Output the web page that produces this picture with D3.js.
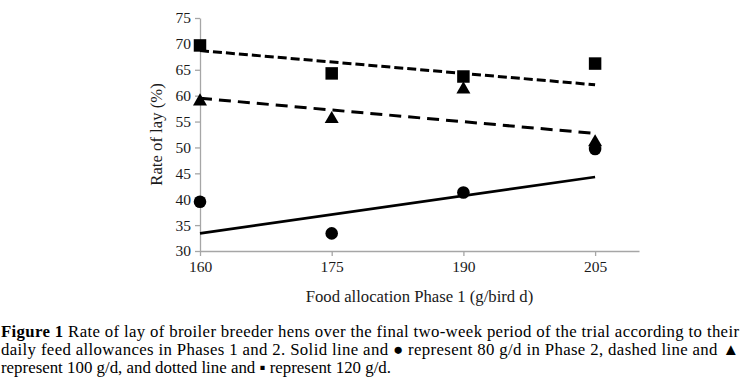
<!DOCTYPE html>
<html>
<head>
<meta charset="utf-8">
<script src="https://cdn.jsdelivr.net/npm/d3@7"></script>
<style>
  body { margin: 0; background: white; }
  svg { display: block; }
</style>
</head>
<body>
<div id="chart"></div>
<script>
// values
const feed = [160, 175, 190, 205];
const rate80 = [39.5, 33.4, 41.3, 49.7];
const rate100 = [58.9, 55.5, 61.2, 51.0];
const rate120 = [69.7, 64.3, 63.7, 66.2];

// fitted trend lines (end points)
const trendFeed = [160, 205];
const trend80 = [33.4, 44.3];
const trend100 = [59.5, 52.7];
const trend120 = [68.7, 62.1];

const yTicks = [30, 35, 40, 45, 50, 55, 60, 65, 70, 75];

const captionLines = [
    "Rate of lay of broiler breeder hens over the final two-week period of the trial according to their",
    "daily feed allowances in Phases 1 and 2. Solid line and \u25CF represent 80 g/d in Phase 2, dashed line and \u25B2",
    "represent 100 g/d, and dotted line and \u25AA represent 120 g/d."
];

const width = 741;
const height = 384;
const font = "'Liberation Serif', 'Times New Roman', serif";

const svg = d3.select("#chart")
    .append("svg")
    .attr("width", width)
    .attr("height", height);

const x = d3.scaleLinear()
    .domain([160, 210])
    .range([200, 639]);

const y = d3.scaleLinear()
    .domain([30, 75])
    .range([251, 18]);

// axes
const xAxis = svg.append("g")
    .attr("transform", `translate(0,${y(30)})`)
    .call(d3.axisBottom(x).tickValues(feed).tickSize(5).tickSizeOuter(0).tickPadding(5));

const yAxis = svg.append("g")
    .attr("transform", `translate(${x(160)},0)`)
    .call(d3.axisLeft(y).tickValues(yTicks).tickSize(5).tickSizeOuter(0).tickPadding(4));

[xAxis, yAxis].forEach(g => {
    g.select(".domain").attr("stroke", "#a6a6a6").attr("stroke-width", 1.3);
    g.selectAll(".tick line").attr("stroke", "#a6a6a6").attr("stroke-width", 1.3);
    g.selectAll(".tick text")
        .attr("font-family", font)
        .attr("font-size", 15.5)
        .attr("fill", "#1a1a1a");
});

svg.append("text")
    .attr("x", (x(160) + x(210)) / 2)
    .attr("y", 302)
    .attr("text-anchor", "middle")
    .attr("font-family", font)
    .attr("font-size", 16.7)
    .attr("fill", "#1a1a1a")
    .text("Food allocation Phase 1 (g/bird d)");

svg.append("text")
    .attr("transform", `translate(162,${(y(30) + y(75)) / 2}) rotate(-90)`)
    .attr("text-anchor", "middle")
    .attr("font-family", font)
    .attr("font-size", 16.7)
    .attr("fill", "#1a1a1a")
    .text("Rate of lay (%)");

// trend lines
const line = d3.line()
    .x(d => x(d[0]))
    .y(d => y(d[1]));

const trends = [
    { vals: trend80, dash: null, w: 2.6 },
    { vals: trend100, dash: "12,7", w: 3 },
    { vals: trend120, dash: "9,4", w: 3 }
];

trends.forEach(t => {
    svg.append("path")
        .datum(d3.zip(trendFeed, t.vals))
        .attr("d", line)
        .attr("fill", "none")
        .attr("stroke", "black")
        .attr("stroke-width", t.w)
        .attr("stroke-dasharray", t.dash);
});

// markers
svg.selectAll(".dot80")
    .data(d3.zip(feed, rate80))
    .enter()
    .append("circle")
    .attr("cx", d => x(d[0]))
    .attr("cy", d => y(d[1]))
    .attr("r", 6.3)
    .attr("fill", "black");

const tri = d3.symbol().type(d3.symbolTriangle).size(85);
svg.selectAll(".tri100")
    .data(d3.zip(feed, rate100))
    .enter()
    .append("path")
    .attr("d", tri)
    .attr("transform", d => `translate(${x(d[0])},${y(d[1])})`)
    .attr("fill", "black");

const sq = d3.symbol().type(d3.symbolSquare).size(156);
svg.selectAll(".sq120")
    .data(d3.zip(feed, rate120))
    .enter()
    .append("path")
    .attr("d", sq)
    .attr("transform", d => `translate(${x(d[0])},${y(d[1])})`)
    .attr("fill", "black");

// caption
const cap = svg.append("g")
    .attr("font-family", font)
    .attr("font-size", 16.8)
    .attr("fill", "black");

const l1 = cap.append("text")
    .attr("x", 1)
    .attr("y", 337)
    .attr("textLength", 738)
    .attr("lengthAdjust", "spacing");
l1.append("tspan").attr("font-weight", "bold").text("Figure 1 ");
l1.append("tspan").text(captionLines[0]);

cap.append("text")
    .attr("x", 1)
    .attr("y", 355)
    .attr("textLength", 738)
    .attr("lengthAdjust", "spacing")
    .text(captionLines[1]);

cap.append("text")
    .attr("x", 1)
    .attr("y", 373)
    .attr("textLength", 390)
    .attr("lengthAdjust", "spacingAndGlyphs")
    .text(captionLines[2]);
</script>
</body>
</html>
